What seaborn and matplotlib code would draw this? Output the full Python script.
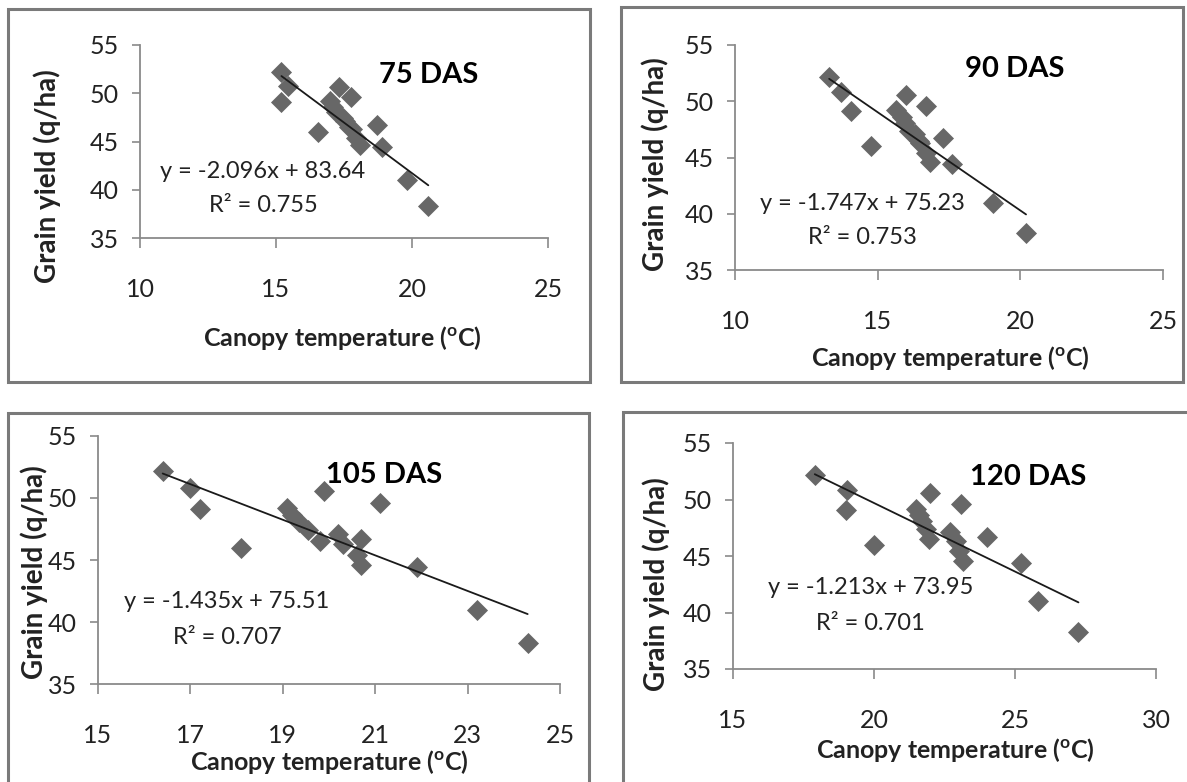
import numpy as np
import pandas as pd
import matplotlib
matplotlib.use("Agg")
import matplotlib.pyplot as plt
from matplotlib.patches import Rectangle
import seaborn as sns

# Grain yield (q/ha), same genotypes in all four panels
grain_yield = [52.2, 50.8, 49.1, 46.0, 50.6, 49.6, 49.2, 48.6, 48.1, 47.4,
               46.7, 47.1, 46.5, 46.3, 45.4, 44.6, 44.4, 41.0, 38.3]

# Canopy temperature (oC) at each stage, same genotype order
temp_75 = [15.2, 15.45, 15.2, 16.55, 17.3, 17.75, 17.0, 17.1, 17.2, 17.45,
           18.7, 17.55, 17.7, 17.8, 17.95, 18.1, 18.9, 19.8, 20.6]
temp_90 = [13.3, 13.7, 14.05, 14.75, 16.0, 16.7, 15.65, 15.85, 15.95, 16.1,
           17.3, 16.3, 16.45, 16.5, 16.7, 16.85, 17.6, 19.05, 20.2]
temp_105 = [16.4, 17.0, 17.2, 18.1, 19.9, 21.1, 19.1, 19.2, 19.35, 19.55,
            20.7, 20.2, 19.8, 20.3, 20.6, 20.7, 21.9, 23.2, 24.3]
temp_120 = [17.9, 19.05, 19.0, 20.0, 22.0, 23.1, 21.5, 21.6, 21.7, 21.85,
            24.0, 22.7, 21.95, 22.9, 23.0, 23.15, 25.2, 25.8, 27.25]

stages = ["75 DAS", "90 DAS", "105 DAS", "120 DAS"]
slopes = [-2.096, -1.747, -1.435, -1.213]
intercepts = [83.64, 75.23, 75.51, 73.95]
r_squared = [0.755, 0.753, 0.707, 0.701]
x_ticks = [[10, 15, 20, 25], [10, 15, 20, 25],
           [15, 17, 19, 21, 23, 25], [15, 20, 25, 30]]
y_ticks = [35, 40, 45, 50, 55]

temps = [temp_75, temp_90, temp_105, temp_120]

sns.set_theme(style="white")
plt.rcParams["font.family"] = ["Lato", "DejaVu Sans"]
plt.rcParams["mathtext.fontset"] = "custom"
plt.rcParams["mathtext.rm"] = "Lato"
plt.rcParams["mathtext.bf"] = "Lato:bold"

W, H = 1187, 782
fig = plt.figure(figsize=(W / 100, H / 100), dpi=100)


def fx(x):
    return x / W


def fy(y):
    return 1 - y / H


# layout in pixels (left, top, right, bottom of plot area)
axes_px = [(140, 45, 548, 238), (735, 45, 1163, 270),
           (98, 436, 560, 684), (733, 443, 1156, 669)]
boxes_px = [(8, 9, 590, 382), (621, 7, 1183, 382),
            (8, 413, 589, 800), (623, 412, 1200, 800)]
ylabel_px = [(47, 176), (655, 164), (34, 572), (656, 584)]
xlabel_px = [(342, 338), (950, 358), (329, 762), (955, 750)]
title_px = [(429, 75), (1015, 69), (384, 475), (1028, 477)]
eq_px = [(263, 171), (862, 203), (227, 602), (871, 587)]
r2_px = [(263, 206), (862, 237), (227, 638), (870, 624)]

axis_grey = "#8a8a8a"
text_col = "#222222"

for i in range(4):
    l, t, r, b = axes_px[i]
    ax = fig.add_axes([fx(l), fy(b), fx(r - l), (b - t) / H])
    df = pd.DataFrame({"temp": temps[i], "yield": grain_yield})
    sns.scatterplot(data=df, x="temp", y="yield", marker="D", s=115,
                    color="#676767", linewidth=0, ax=ax, zorder=2)
    xs = np.array([min(temps[i]), max(temps[i])])
    ax.plot(xs, slopes[i] * xs + intercepts[i], color="#1a1a1a", lw=1.3, zorder=3)

    ax.set_xlim(x_ticks[i][0], x_ticks[i][-1])
    ax.set_ylim(y_ticks[0], y_ticks[-1])
    ax.set_xticks(x_ticks[i])
    ax.set_yticks(y_ticks)
    ax.set_xlabel("")
    ax.set_ylabel("")
    for side in ["top", "right"]:
        ax.spines[side].set_visible(False)
    for side in ["left", "bottom"]:
        ax.spines[side].set_color(axis_grey)
        ax.spines[side].set_linewidth(1.3)
    ax.tick_params(axis="x", direction="out", length=7, width=1.2, color=axis_grey,
                   pad=22, labelsize=18, labelcolor=text_col, bottom=True)
    ax.tick_params(axis="y", direction="out", length=6, width=1.2, color=axis_grey,
                   pad=9, labelsize=18, labelcolor=text_col, left=True)
    ax.patch.set_alpha(0)

    # panel frame
    x0, y0, x1, y1 = boxes_px[i]
    fig.add_artist(Rectangle((fx(x0), fy(y1)), fx(x1 - x0), (y1 - y0) / H,
                             transform=fig.transFigure, fill=False,
                             ec="#7a7a7a", lw=2.2))

    fig.text(fx(ylabel_px[i][0]), fy(ylabel_px[i][1]), "Grain yield (q/ha)",
             rotation=90, ha="center", va="center", fontsize=20,
             fontweight="bold", color=text_col)
    fig.text(fx(xlabel_px[i][0]), fy(xlabel_px[i][1]),
             r"Canopy temperature ($\mathbf{^o}$C)", ha="center", va="center",
             fontsize=18, fontweight="bold", color=text_col)
    fig.text(fx(title_px[i][0]), fy(title_px[i][1]), stages[i], ha="center",
             va="center", fontsize=21, fontweight="bold", color="black")
    fig.text(fx(eq_px[i][0]), fy(eq_px[i][1]),
             f"y = {slopes[i]:.3f}x + {intercepts[i]:.2f}", ha="center",
             va="center", fontsize=17, color=text_col)
    fig.text(fx(r2_px[i][0]), fy(r2_px[i][1]), f"R² = {r_squared[i]:.3f}",
             ha="center", va="center", fontsize=17, color=text_col)

fig.savefig("out.png", dpi=100, facecolor="white")
